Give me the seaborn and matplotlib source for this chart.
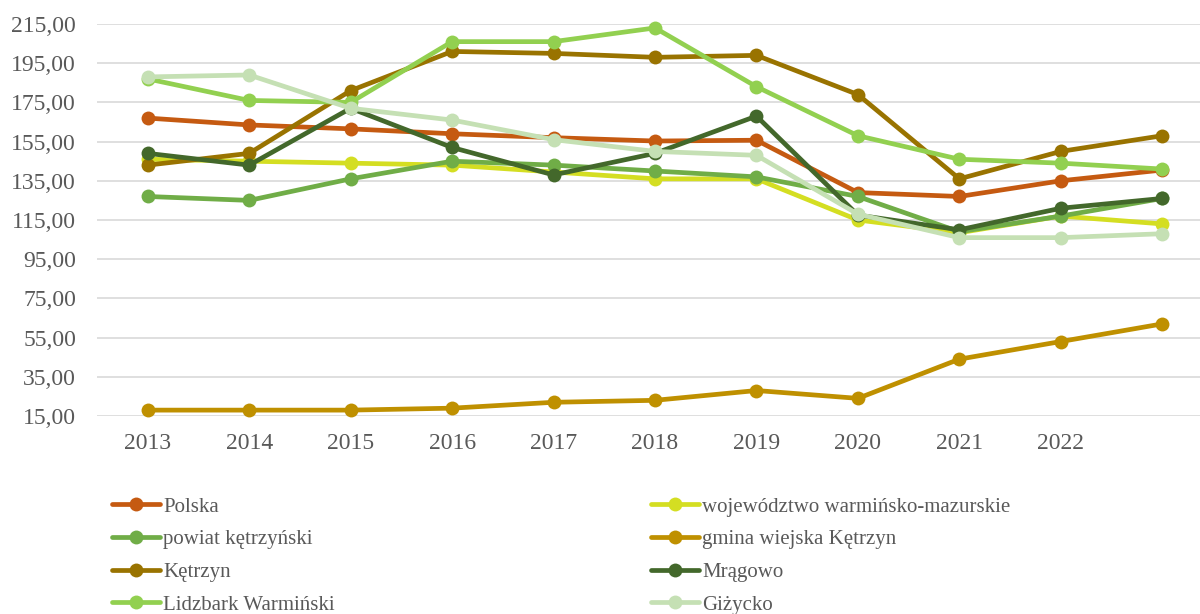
import pandas as pd
import matplotlib.pyplot as plt
import seaborn as sns
import numpy as np
from matplotlib.lines import Line2D
from matplotlib.ticker import FuncFormatter

sns.set_theme(style="white")
plt.rcParams["font.family"] = ["Liberation Serif", "DejaVu Serif"]

# dane
years = ["2013", "2014", "2015", "2016", "2017", "2018", "2019", "2020", "2021", "2022", ""]
names = ["Polska", "województwo warmińsko-mazurskie", "powiat kętrzyński", "gmina wiejska Kętrzyn",
         "Kętrzyn", "Mrągowo", "Lidzbark Warmiński", "Giżycko"]
colors = ["#C55A11", "#D4DE22", "#70AD47", "#BF9000", "#997300", "#43682B", "#92D050", "#C5E0B4"]

polska = [167, 163.5, 161.5, 159, 157, 155.3, 155.7, 129, 127, 135, 140.5]
wojewodztwo = [146, 145, 144, 143, 139.5, 136, 136, 115, 108.5, 117, 113]
powiat = [127, 125, 136, 145, 143, 140, 137, 127, 109, 117, 126]
gmina = [18, 18, 18, 19, 22, 23, 28, 24, 44, 53, 62]
ketrzyn = [143, 149, 181, 201, 200, 198, 199, 179, 136, 150, 158]
mragowo = [149, 143, 172, 152, 138, 149, 168, 117.5, 110, 121, 126]
lidzbark = [187, 176, 175, 206, 206, 213, 183, 158, 146, 144, 141]
gizycko = [188, 189, 172, 166, 156, 150, 148, 118, 106, 106, 108]

values = [polska, wojewodztwo, powiat, gmina, ketrzyn, mragowo, lidzbark, gizycko]

rows = []
for name, vals in zip(names, values):
    for i, v in enumerate(vals):
        rows.append({"idx": i, "wartosc": v, "jednostka": name})
df = pd.DataFrame(rows)

fig = plt.figure(figsize=(12, 6.14), dpi=100)
ax = fig.add_axes([97 / 1200, (614 - 416) / 614, (1213 - 97) / 1200, (416 - 24) / 614])

sns.lineplot(data=df, x="idx", y="wartosc", hue="jednostka", hue_order=names,
             palette=colors, marker="o", markersize=10, markeredgewidth=0,
             linewidth=3.4, legend=False, ax=ax, clip_on=False)

ax.set_xlim(-0.5, 10.5)
ax.set_ylim(15, 215)
ax.set_yticks(np.arange(15, 216, 20))
ax.yaxis.set_major_formatter(FuncFormatter(lambda v, p: f"{v:.2f}".replace(".", ",")))
ax.set_xticks(range(len(years)))
ax.set_xticklabels(years)
ax.set_xlabel("")
ax.set_ylabel("")

ax.grid(axis="y", color="#D9D9D9", linewidth=1.2)
ax.grid(axis="x", visible=False)
ax.set_axisbelow(True)
for s in ax.spines.values():
    s.set_visible(False)
ax.tick_params(axis="x", length=0, pad=12, labelsize=17, labelcolor="#595959")
ax.tick_params(axis="y", length=0, pad=15, labelsize=17, labelcolor="#595959")

# legenda w dwoch kolumnach
handles = [Line2D([], [], color=c, linewidth=3.4, marker="o", markersize=10, markeredgewidth=0)
           for c in colors]
left = [0, 2, 4, 6]
right = [1, 3, 5, 7]
leg_kw = dict(frameon=False, fontsize=15, handlelength=2.3, handletextpad=0.15,
              labelspacing=0.63, borderpad=0, borderaxespad=0, loc="upper left",
              labelcolor="#595959")
leg1 = fig.legend([handles[i] for i in left], [names[i] for i in left],
                  bbox_to_anchor=(112 / 1200, 1 - 497 / 614), **leg_kw)
leg2 = fig.legend([handles[i] for i in right], [names[i] for i in right],
                  bbox_to_anchor=(651 / 1200, 1 - 497 / 614), **leg_kw)

plt.savefig("out.png", dpi=100)
plt.close()
